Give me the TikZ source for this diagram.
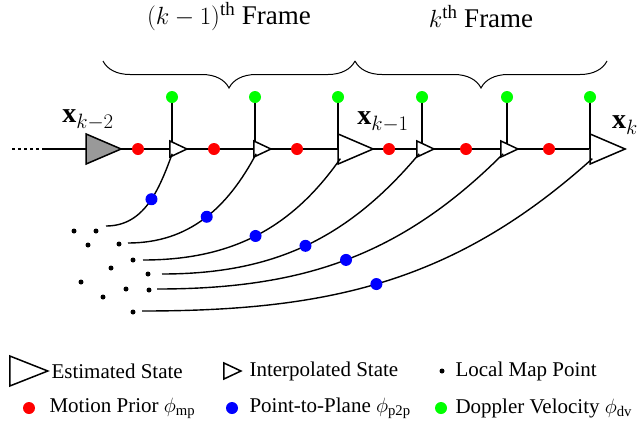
\documentclass[tikz,border=0pt]{standalone}
\usepackage{fontspec}
\setmainfont{Liberation Serif}
\usetikzlibrary{shapes.geometric,decorations.pathreplacing,backgrounds,calc}
\begin{document}
\begin{tikzpicture}[x=1pt,y=-1pt,
  tri/.style={isosceles triangle,isosceles triangle stretches,draw,line width=1.5pt,fill=white,inner sep=0pt},
  big/.style={tri,minimum width=30pt,minimum height=35pt},
  small/.style={tri,minimum width=16pt,minimum height=17pt},
  dot/.style={circle,fill=#1,inner sep=0pt,minimum size=12pt},
  pt/.style={circle,fill=black,inner sep=0pt,minimum size=5pt},
  ln/.style={line width=1.4pt},
  lbl/.style={font=\fontsize{28}{28}\selectfont},
  leg/.style={font=\fontsize{21}{21}\selectfont,anchor=west},
  br/.style={line width=1pt,decorate,decoration={brace,amplitude=27pt,mirror}}]
\useasboundingbox (0,0) rectangle (640,421);
% states
\node[big,fill=gray!80] (t0) at (96,149) {};
\node[small] (s1) at (175,149) {};
\node[small] (s2) at (259,149) {};
\node[big] (t1) at (348,149) {};
\node[small] (s3) at (422,149) {};
\node[small] (s4) at (506,149) {};
\node[big] (t2) at (600,149) {};
\node[lbl] (l0) at (88,120) {$\mathbf{x}_{k-2}$};
\node[lbl] (l1) at (383,122) {$\mathbf{x}_{k-1}$};
\node[lbl] (l2) at (625,125) {$\mathbf{x}_{k}$};
\coordinate (ds) at (12,149);
\coordinate (de) at (45,149);
% red
\foreach \x [count=\i] in {138,214,297,389,466,549}{\node[dot=red] (r\i) at (\x,149) {};}
% green
\foreach \x/\n [count=\i] in {172/s1,255/s2,338/t1,422/s3,507/s4,590/t2}{
  \node[dot=green] (g\i) at (\x,97) {};
  \coordinate (gt\i) at (\x,149);
}
\begin{scope}[on background layer]
\draw[ln,dashed] (ds) -- (de);
\draw[ln] (de) -- (t2.west);
\foreach \i in {1,...,6}{\draw[ln] (g\i) -- (gt\i);}
\end{scope}
% map points
\foreach \x/\y [count=\i] in {74/231,96/231,88/245,119/244,133/260,111/268,148/274,81/282,126/289,149/290,103/297,133/312}{
  \node[pt] (p\i) at (\x,\y) {};}
% curves
\foreach \tr/\ex/\ey/\p/\a [count=\i] in {s1/106/226/0.55/-110,s2/128/243/0.52/-118,t1/143/260/0.5/-125,s3/162/274/0.5/-130,s4/157/289/0.5/-135,t2/142/311/0.48/-138}{
  \coordinate (e\i) at (\ex,\ey);
  \draw[ln] (e\i) to[out=0,in=\a] node[pos=\p,dot=blue] (b\i) {} ($(\tr.south west)+(3,-1)$);
}
% braces
\coordinate (bA) at (103,61);
\coordinate (bB) at (355,61);
\coordinate (bC) at (607,61);
\draw[br] (bA) -- (bB);
\draw[br] (bB) -- (bC);
\node[font=\fontsize{27}{27}\selectfont] (f1) at (229,17) {$(k-1)^{\mathrm{th}}$ Frame};
\node[font=\fontsize{27}{27}\selectfont] (f2) at (481,17) {$k^{\mathrm{th}}$ Frame};
% legend
\node[big,minimum height=38pt] (lt1) at (20,371) {};
\node[leg] (lx1) at (48,371) {Estimated State};
\node[small] (lt2) at (229,371) {};
\node[leg] (lx2) at (246,371) {Interpolated State};
\node[pt] (lp) at (442,371) {};
\node[leg] (lx3) at (452,371) {Local Map Point};
\node[dot=red] (lr) at (29,408) {};
\node[leg] (lx4) at (46,408) {Motion Prior $\phi_{\mathrm{mp}}$};
\node[dot=blue] (lb) at (232,408) {};
\node[leg] (lx5) at (246,408) {Point-to-Plane $\phi_{\mathrm{p2p}}$};
\node[dot=green] (lg) at (441,408) {};
\node[leg] (lx6) at (452,408) {Doppler Velocity $\phi_{\mathrm{dv}}$};
\end{tikzpicture}
\end{document}
